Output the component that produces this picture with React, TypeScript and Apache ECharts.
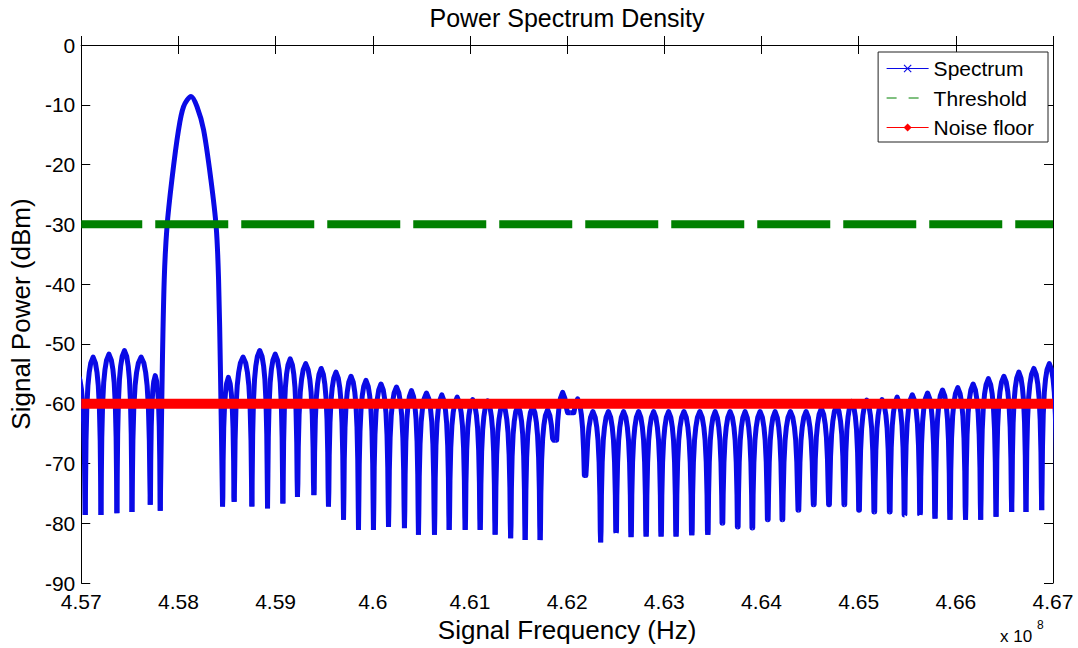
import React, { useEffect, useRef } from 'react';
import * as echarts from 'echarts';

const FONT = '"Liberation Sans", Arial, Helvetica, sans-serif';
const BLUE = '#0a0ae6';
const GREEN = '#008000';
const RED = '#ff0000';

// Frequency axis in MHz; tick labels are shown in units of 10^8 Hz
const xMin = 457;
const xMax = 467;
const xInterval = 1;
const yMin = -90;
const yMax = 0;
const yInterval = 10;

const thresholdDb = -30;
const noiseFloorDb = -60;

// Main lobe (MHz, dBm)
const mainLobeFreq = [457.813, 457.833, 457.854, 457.882, 457.933, 458.001, 458.053, 458.13, 458.191, 458.259, 458.334, 458.389, 458.413, 458.433, 458.454];
const mainLobeDb = [-77.9, -55, -39.2, -30.5, -22.5, -14.2, -10.3, -8.6, -10.3, -14.2, -22.5, -30.5, -39.2, -55, -77.2];

// Side lobes: null positions (MHz), null depths (dBm), peak of lobe that starts at each null
const nullFreq = [
  456.885, 457.041, 457.203, 457.367, 457.522, 457.71, 457.813, 458.454, 458.574, 458.756,
  458.917, 459.075, 459.225, 459.394, 459.544, 459.699, 459.853, 460.007, 460.162, 460.326,
  460.47, 460.635, 460.786, 460.951, 461.105, 461.259, 461.419, 461.568, 461.722, 461.877,
  462.031, 462.185, 462.345, 462.504, 462.658, 462.813, 462.967, 463.121, 463.283, 463.448,
  463.598, 463.756, 463.906, 464.065, 464.215, 464.38, 464.538, 464.695, 464.853, 465.004,
  465.161, 465.32, 465.472, 465.632, 465.786, 465.94, 466.1, 466.256, 466.414, 466.575,
  466.722, 466.884, 467.04,
];
const nullDb = [
  -78, -78.6, -78.6, -78.3, -78.1, -76.9, -77.9, -77.2, -76.4, -77.2,
  -77.5, -76.7, -75.6, -75.3, -77.2, -79.4, -81.1, -81.1, -80.6, -80.8,
  -81.9, -81.9, -81.1, -81.1, -81.1, -81.9, -82.5, -82.8, -82.8, -66.1,
  -61.5, -72, -83.2, -81.6, -82.3, -82.2, -82.2, -82.2, -82, -81.9,
  -80, -80.6, -80.8, -79.4, -79.4, -77.8, -76.9, -76.9, -76.9, -77.8,
  -78.1, -78.1, -78.6, -78.6, -79.2, -79.4, -79.4, -79.4, -78.9, -78.1,
  -78.1, -77.8, -78,
];
const lobePeakDb: (number | null)[] = [
  -55, -52.2, -51.7, -51.1, -52.2, -55.3, null, -55.6, -52.2, -51.1,
  -51.7, -52.5, -53.3, -54.1, -54.7, -55.4, -56.1, -56.7, -57.2, -57.8,
  -58.2, -58.5, -58.9, -59.3, -59.5, -60, -60.3, -60.5, -61, -58.1,
  -59.2, -61.3, -61.3, -61.3, -61.3, -61.3, -61.3, -61.3, -61.3, -61.3,
  -61.3, -61.3, -61.3, -61.3, -61.3, -61.3, -60.8, -60.3, -59.6, -59.4,
  -59.3, -58.9, -58.5, -58.2, -57.7, -57.3, -56.7, -55.8, -55.4, -54.7,
  -54.1, -53.3,
];

// drawing profile of one side lobe (fraction of lobe width, dB below its peak)
const LOBE_PROFILE: [number, number][] = [
  [0.025, -20], [0.05, -14], [0.1, -8.5], [0.17, -4.8], [0.25, -2.6], [0.35, -1], [0.5, 0],
  [0.65, -1], [0.75, -2.6], [0.83, -4.8], [0.9, -8.5], [0.95, -14], [0.975, -20],
];

const X_PATH = 'path://M0,1 L1,0 L5,4 L9,0 L10,1 L6,5 L10,9 L9,10 L5,6 L1,10 L0,9 L4,5 Z';

export default function App() {
  const ref = useRef<HTMLDivElement>(null);
  useEffect(() => {
    document.body.style.margin = '0';
    if (!ref.current) return;
    const chart = echarts.init(ref.current, null, { renderer: 'svg' });

    const lobeData: number[][] = [];
    for (let i = 0; i < lobePeakDb.length; i++) {
      const pk = lobePeakDb[i];
      if (pk === null) continue;
      lobeData.push([nullFreq[i], nullFreq[i + 1], nullDb[i], pk, nullDb[i + 1]]);
    }
    const mainLobe = mainLobeFreq.map((f, i) => [f, mainLobeDb[i]]);

    const axisLine = { show: true, lineStyle: { color: '#000', width: 1 } };
    const axisTick = { show: true, inside: true, length: 9, lineStyle: { color: '#000', width: 1 } };
    const labelStyle = { color: '#000', fontSize: 21, fontFamily: FONT };

    chart.setOption({
      animation: false,
      backgroundColor: '#fff',
      grid: { left: 81, right: 25, top: 45, bottom: 61, containLabel: false },
      xAxis: [
        {
          type: 'value', min: xMin, max: xMax, interval: xInterval, position: 'bottom',
          axisLine, axisTick, splitLine: { show: false },
          axisLabel: { ...labelStyle, margin: 8, formatter: (v: number) => String(+(v / 100).toFixed(2)) },
          name: 'Signal Frequency (Hz)', nameLocation: 'middle', nameGap: 30,
          nameTextStyle: { color: '#000', fontSize: 26, fontFamily: FONT },
        },
        {
          type: 'value', min: xMin, max: xMax, interval: xInterval, position: 'top',
          axisLine, axisTick, splitLine: { show: false }, axisLabel: { show: false },
        },
      ],
      yAxis: [
        {
          type: 'value', min: yMin, max: yMax, interval: yInterval, position: 'left',
          axisLine, axisTick, splitLine: { show: false },
          axisLabel: { ...labelStyle, margin: 6 },
          name: 'Signal Power (dBm)', nameLocation: 'middle', nameGap: 46,
          nameTextStyle: { color: '#000', fontSize: 26, fontFamily: FONT },
        },
        {
          type: 'value', min: yMin, max: yMax, interval: yInterval, position: 'right',
          axisLine, axisTick, splitLine: { show: false }, axisLabel: { show: false },
        },
      ],
      legend: {
        orient: 'vertical', right: 30, top: 52,
        itemWidth: 42, itemHeight: 10, itemGap: 8.5,
        padding: [6, 14, 4, 8],
        backgroundColor: '#fff', borderColor: '#222', borderWidth: 1, borderRadius: 0,
        textStyle: { color: '#000', fontSize: 21, fontFamily: FONT },
        data: [
          { name: 'Spectrum', lineStyle: { width: 1 } },
          { name: 'Threshold', lineStyle: { width: 1, type: [10, 12], dashOffset: 0 }, itemStyle: { opacity: 0 } },
          { name: 'Noise floor', lineStyle: { width: 1 } },
        ],
      },
      graphic: [
        {
          type: 'text', x: 567, y: 18,
          style: { text: 'Power Spectrum Density', fill: '#000', fontSize: 25, fontFamily: FONT, textAlign: 'center', textVerticalAlign: 'middle' },
        },
        {
          type: 'text', x: 1000, y: 636,
          style: { text: 'x 10', fill: '#000', fontSize: 17, fontFamily: FONT, textAlign: 'left', textVerticalAlign: 'middle' },
        },
        {
          type: 'text', x: 1037, y: 625,
          style: { text: '8', fill: '#000', fontSize: 12, fontFamily: FONT, textAlign: 'left', textVerticalAlign: 'middle' },
        },
      ],
      series: [
        {
          name: 'Spectrum', type: 'line', data: mainLobe, smooth: 0.3,
          symbol: X_PATH, symbolSize: 8, showSymbol: false, silent: true,
          itemStyle: { color: BLUE }, lineStyle: { color: BLUE, width: 5 },
        },
        {
          name: 'Spectrum', type: 'custom', data: lobeData, clip: true, silent: true,
          encode: { x: [0, 1], y: [2, 3, 4] },
          itemStyle: { color: BLUE },
          renderItem: (params: any, api: any) => {
            const f0 = api.value(0), f1 = api.value(1), d0 = api.value(2), pk = api.value(3), d1 = api.value(4);
            const pts = [api.coord([f0, d0])];
            for (const [u, off] of LOBE_PROFILE) {
              const floor = u < 0.5 ? d0 : d1;
              pts.push(api.coord([f0 + u * (f1 - f0), Math.max(pk + off, floor)]));
            }
            pts.push(api.coord([f1, d1]));
            return {
              type: 'polyline',
              shape: { points: pts },
              style: { stroke: BLUE, lineWidth: 5, fill: 'none', lineJoin: 'round' },
            };
          },
        },
        {
          name: 'Threshold', type: 'line', data: [[xMin, thresholdDb], [xMax, thresholdDb]],
          symbol: 'none', silent: true,
          itemStyle: { color: GREEN }, lineStyle: { color: GREEN, width: 8, type: [73, 13], dashOffset: 11.5 },
        },
        {
          name: 'Noise floor', type: 'line', data: [[xMin, noiseFloorDb], [xMax, noiseFloorDb]],
          symbol: 'diamond', symbolSize: 8, showSymbol: false, silent: true,
          itemStyle: { color: RED }, lineStyle: { color: RED, width: 10 },
        },
      ],
    });
    return () => chart.dispose();
  }, []);
  return <div ref={ref} style={{ width: 1078, height: 648 }} />;
}
